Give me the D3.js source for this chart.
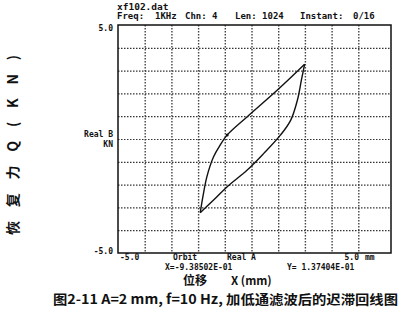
<!DOCTYPE html>
<html>
<head>
<meta charset="utf-8">
<script src="https://cdn.jsdelivr.net/npm/d3@7"></script>
<style>
  body { margin: 0; background: #fff; }
  svg { display: block; }
  .mono { font-family: 'DejaVu Sans Mono', monospace; font-weight: bold; fill: #111; }
  .cjk { font-family: 'Noto Sans CJK SC', sans-serif; fill: #111; }
  .grid .domain { display: none; }
  .grid line { stroke: #333; stroke-width: 1.2; stroke-dasharray: 1.5,1.5; }
  .grid.gx line { stroke: #444; stroke-width: 1.4; stroke-dasharray: 1.5,1.5; }
</style>
</head>
<body>
<div id="chart"></div>
<script>
// loop: upper branch and lower branch, tip to tip
const upperX = [-1.92, -1.82, -1.67, -1.42, -1.17, -0.91, -0.16, 0.97, 1.99];
const upperY = [-3.23, -2.53, -1.65, -0.78, -0.26, 0.18, 0.98, 2.15, 3.28];
const lowerX = [-1.92, -1.42, -0.91, -0.16, 0.46, 1.09, 1.47, 1.72, 1.87, 1.99];
const lowerY = [-3.23, -2.68, -2.09, -1.36, -0.63, 0.18, 0.83, 1.71, 2.59, 3.28];
const gridTicks = [-4, -3, -2, -1, 0, 1, 2, 3, 4];
const header = [
  { t: 'Freq:', x: 117 }, { t: '1KHz', x: 155 }, { t: 'Chn: 4', x: 185 },
  { t: 'Len: 1024', x: 235 }, { t: 'Instant:', x: 300 }, { t: '0/16', x: 353 },
];

const W = 404, H = 324;
const x = d3.scaleLinear().domain([-5, 5]).range([118, 385]);
const y = d3.scaleLinear().domain([-5, 5]).range([253, 25]);
const frameRight = x(5) + 6;
const plotH = y(-5) - y(5);
const plotW = frameRight - x(-5);

const svg = d3.select('#chart').append('svg')
  .attr('width', W)
  .attr('height', H);

/* grid, drawn through the axes */
svg.append('g')
  .attr('class', 'grid gx')
  .attr('transform', `translate(0, ${y(5)})`)
  .call(d3.axisTop(x)
    .tickValues(gridTicks)
    .tickSizeInner(-plotH)
    .tickSizeOuter(0)
    .tickFormat(''));
svg.append('g')
  .attr('class', 'grid gy')
  .attr('transform', `translate(${x(-5)}, 0)`)
  .call(d3.axisLeft(y)
    .tickValues(gridTicks)
    .tickSizeInner(-plotW)
    .tickSizeOuter(0)
    .tickFormat(''));

/* frame */
svg.append('rect')
  .attr('x', x(-5))
  .attr('y', y(5))
  .attr('width', plotW)
  .attr('height', plotH)
  .style('fill', 'none')
  .style('stroke', '#111')
  .style('stroke-width', 1.5);

/* hysteresis loop */
const line = d3.line()
  .x(d => x(d[0]))
  .y(d => y(d[1]))
  .curve(d3.curveCatmullRom.alpha(0.5));
[[upperX, upperY], [lowerX, lowerY]].forEach(([xs, ys]) => {
  svg.append('path')
    .datum(xs.map((v, i) => [v, ys[i]]))
    .attr('d', line)
    .style('fill', 'none')
    .style('stroke', '#111')
    .style('stroke-width', 1.4);
});
svg.append('circle')
  .attr('cx', x(upperX[5]))
  .attr('cy', y(upperY[5]))
  .attr('r', 1.5)
  .style('fill', '#111');

/* header texts */
svg.append('text').attr('class', 'mono')
  .attr('x', 117).attr('y', 10)
  .style('font-size', '9.5px')
  .text('xf102.dat');
svg.selectAll('.hdr').data(header).enter().append('text')
  .attr('class', 'mono')
  .attr('x', d => d.x).attr('y', 19)
  .style('font-size', '9px')
  .text(d => d.t);

/* axis labels */
const mono = (t, px, py, anchor) => svg.append('text')
  .attr('class', 'mono')
  .attr('x', px).attr('y', py)
  .style('font-size', '8px')
  .style('text-anchor', anchor || 'start')
  .text(t);
mono('5.0', 113, 31, 'end');
mono('-5.0', 113, 254, 'end');
mono('Real B', 113, 137, 'end');
mono('KN', 113, 147, 'end');
mono('-5.0', 120, 259.5);
mono('Orbit', 173, 259.5);
mono('Real A', 227, 259.5);
mono('5.0', 359, 259.5, 'end');
mono('mm', 365, 259.5);
mono('X=-9.38502E-01', 165, 270);
mono('Y= 1.37404E-01', 287, 270);

svg.append('text').attr('class', 'cjk')
  .attr('x', 183).attr('y', 285)
  .style('font-size', '12px')
  .style('font-weight', 'bold')
  .text('位移');
svg.append('text').attr('class', 'cjk')
  .attr('x', 231).attr('y', 285)
  .style('font-size', '11.5px')
  .style('font-weight', 'bold')
  .text('X (mm)');

svg.append('text').attr('class', 'cjk')
  .attr('transform', 'translate(18, 145) rotate(-90)')
  .attr('textLength', 180)
  .attr('lengthAdjust', 'spacing')
  .style('text-anchor', 'middle')
  .style('font-size', '14px')
  .style('font-weight', 'bold')
  .text('恢复力Q(KN)');

svg.append('text').attr('class', 'cjk')
  .attr('x', 53).attr('y', 304)
  .attr('textLength', 345)
  .attr('lengthAdjust', 'spacingAndGlyphs')
  .style('font-size', '13px')
  .style('font-weight', 'bold')
  .text('图2-11 A=2 mm, f=10 Hz, 加低通滤波后的迟滞回线图');
</script>
</body>
</html>
